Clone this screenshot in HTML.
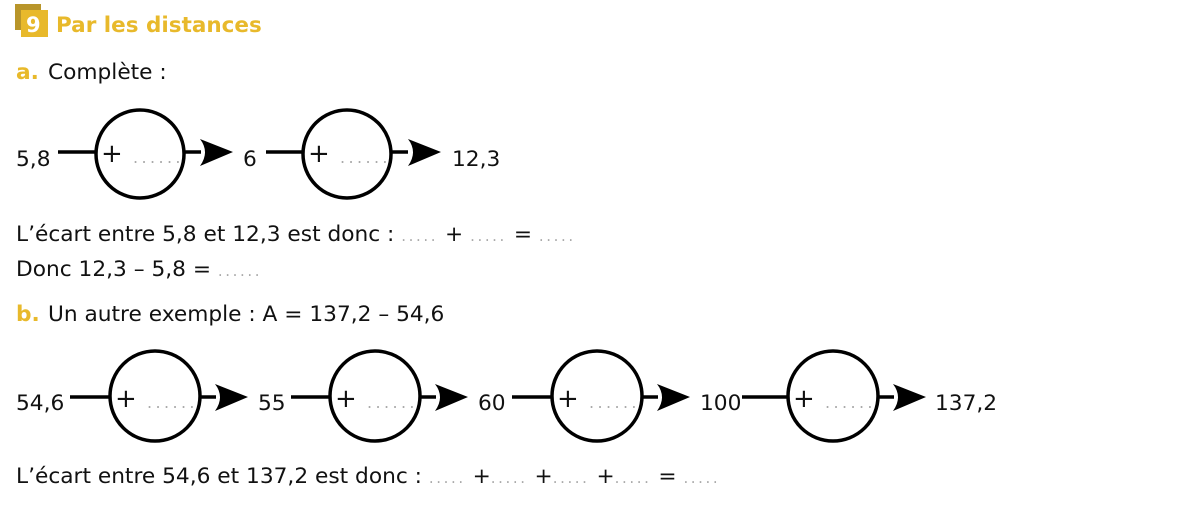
<!DOCTYPE html>
<html><head><meta charset="utf-8"><style>
html,body{margin:0;padding:0;background:#fff;}
svg{display:block;}
text{font-family:"DejaVu Sans","Liberation Sans",sans-serif;font-size:21.7px;fill:#111;}
.g{fill:#aaa;font-size:15px;letter-spacing:2.6px;}
.c{fill:#aaa;font-size:16px;letter-spacing:3.4px;}
.p{font-size:26px;}
.y{fill:#e8b92b;font-weight:bold;}
</style></head><body>
<svg width="1200" height="508" viewBox="0 0 1200 508">
<defs>
<g id="arr"><path d="M0,-13 Q10,0 0,14 L33,0 Z" fill="#000"/></g>
</defs>
<rect x="15" y="4" width="26" height="26" fill="#b8952a"/>
<rect x="21" y="10" width="27" height="27" fill="#e8b92b"/>
<text x="26" y="32" style="fill:#fff;font-weight:bold;font-size:21px">9</text>
<text x="56" y="32" class="y" style="font-size:21.5px">Par les distances</text>
<text x="16" y="79" class="y">a.</text>
<text x="48" y="79">Complète :</text>

<g stroke="#000" stroke-width="3.5" fill="none">
<line x1="58" y1="152" x2="96" y2="152"/><circle cx="140" cy="154" r="44"/><line x1="184" y1="152" x2="201" y2="152"/>
<line x1="266" y1="152" x2="303" y2="152"/><circle cx="347" cy="154" r="44"/><line x1="391" y1="152" x2="408" y2="152"/>
</g>
<use href="#arr" x="200" y="152"/><use href="#arr" x="408" y="152"/>
<text x="16" y="166">5,8</text>
<text x="101" y="162" class="p">+</text><text x="133" y="163" class="c">......</text>
<text x="243" y="166">6</text>
<text x="308" y="162" class="p">+</text><text x="340" y="163" class="c">......</text>
<text x="452" y="166">12,3</text>

<text x="16" y="241">L’écart entre 5,8 et 12,3 est donc : <tspan class="g">.....</tspan> + <tspan class="g">.....</tspan> = <tspan class="g">.....</tspan></text>
<text x="16" y="276">Donc 12,3 – 5,8 = <tspan class="g">......</tspan></text>
<text x="16" y="321" class="y">b.</text>
<text x="48" y="321">Un autre exemple : A = 137,2 – 54,6</text>

<g stroke="#000" stroke-width="3.5" fill="none">
<line x1="70" y1="397" x2="110" y2="397"/><circle cx="155" cy="396" r="45"/><line x1="200" y1="397" x2="216" y2="397"/>
<line x1="291" y1="397" x2="330" y2="397"/><circle cx="375" cy="396" r="45"/><line x1="420" y1="397" x2="436" y2="397"/>
<line x1="512" y1="397" x2="552" y2="397"/><circle cx="597" cy="396" r="45"/><line x1="642" y1="397" x2="658" y2="397"/>
<line x1="742" y1="397" x2="788" y2="397"/><circle cx="833" cy="396" r="45"/><line x1="878" y1="397" x2="894" y2="397"/>
</g>
<use href="#arr" x="215" y="397"/><use href="#arr" x="435" y="397"/><use href="#arr" x="657" y="397"/><use href="#arr" x="893" y="397"/>
<text x="16" y="410">54,6</text>
<text x="115" y="407" class="p">+</text><text x="147" y="408" class="c">......</text>
<text x="258" y="410">55</text>
<text x="335" y="407" class="p">+</text><text x="367" y="408" class="c">......</text>
<text x="478" y="410">60</text>
<text x="557" y="407" class="p">+</text><text x="589" y="408" class="c">......</text>
<text x="700" y="410">100</text>
<text x="793" y="407" class="p">+</text><text x="825" y="408" class="c">......</text>
<text x="935" y="410">137,2</text>

<text x="16" y="483">L’écart entre 54,6 et 137,2 est donc : <tspan class="g">.....</tspan> +<tspan class="g">.....</tspan> +<tspan class="g">.....</tspan> +<tspan class="g">.....</tspan> = <tspan class="g">.....</tspan></text>
</svg>
</body></html>
